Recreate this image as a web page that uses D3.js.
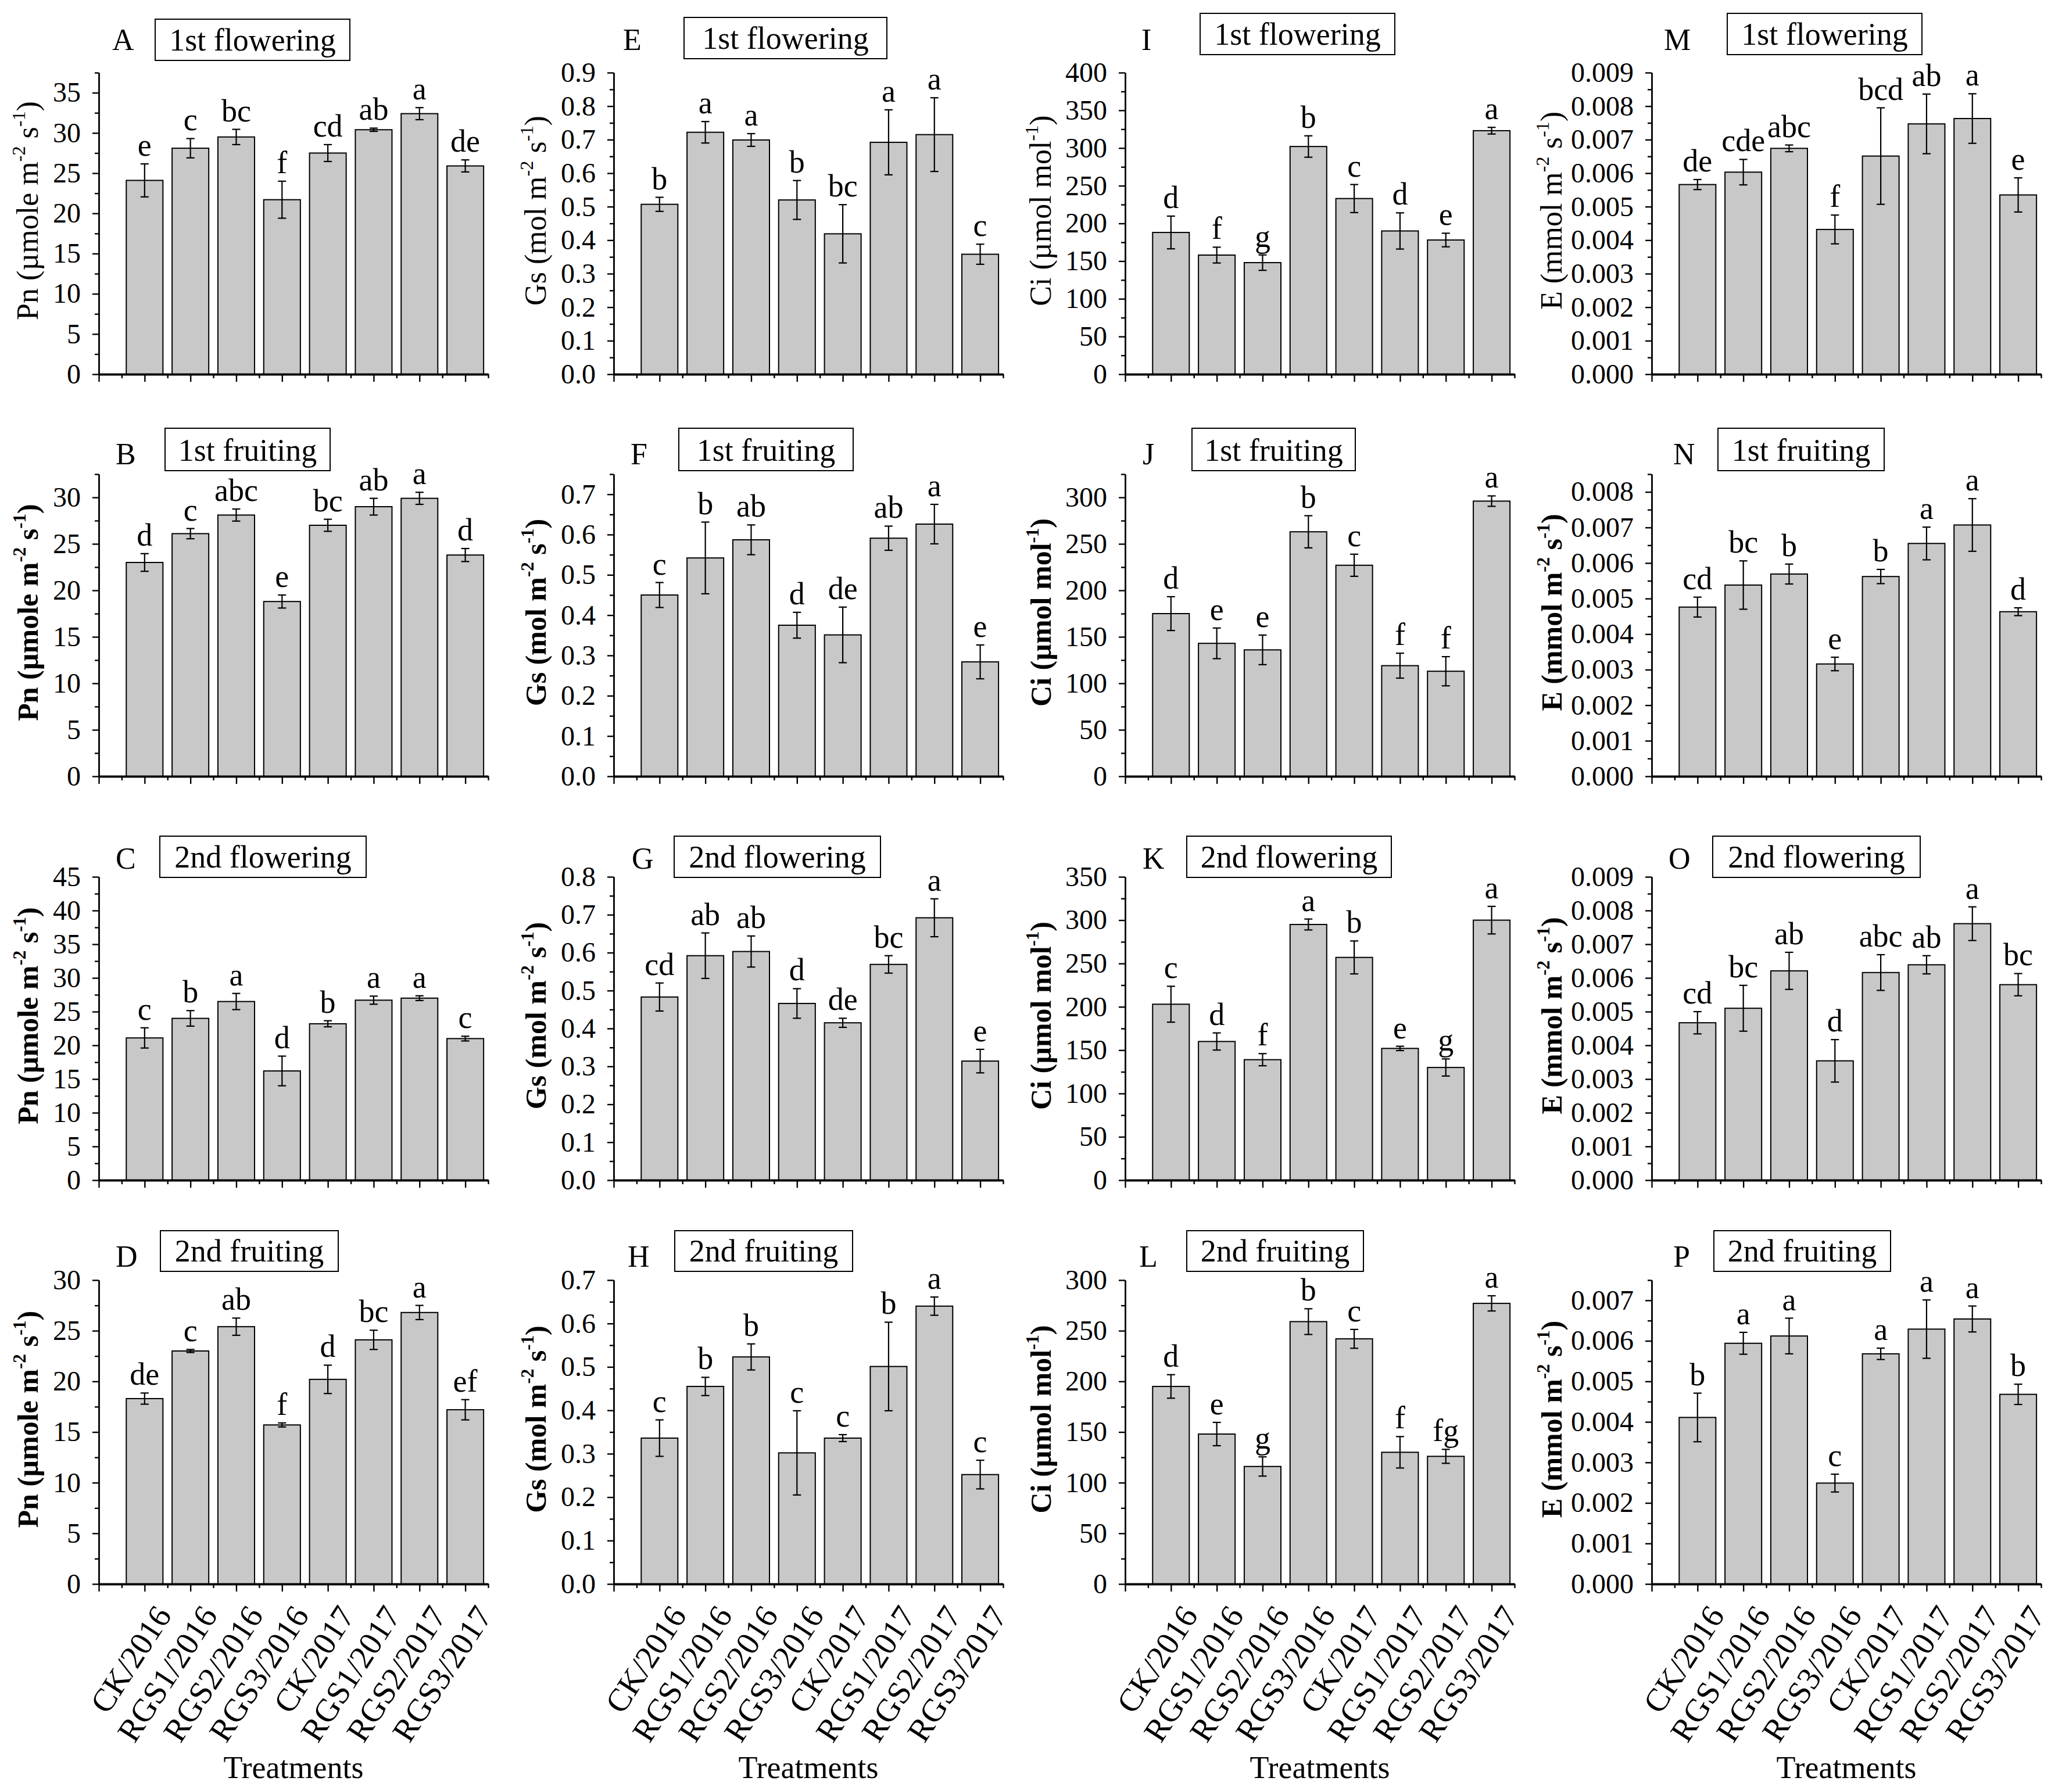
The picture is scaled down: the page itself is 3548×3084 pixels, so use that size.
<!DOCTYPE html>
<html><head><meta charset="utf-8">
<script src="https://cdn.jsdelivr.net/npm/d3@7"></script>
<style>
body{margin:0;background:#fff}
svg{display:block;background:#fff}
text{font-family:"Liberation Serif","Times New Roman",serif;fill:#000}
</style>
</head><body>
<svg id="chart" width="3548" height="3084"></svg>
<script>
// ---------------- DATA ----------------
const treatments = ["CK/2016","RGS1/2016","RGS2/2016","RGS3/2016","CK/2017","RGS1/2017","RGS2/2017","RGS3/2017"];
const stages = ["1st flowering","1st fruiting","2nd flowering","2nd fruiting"];
const panelLetters = [["A","B","C","D"],["E","F","G","H"],["I","J","K","L"],["M","N","O","P"]];

// Pn (µmole m-2 s-1)
const pnMean = [
  [24.1, 28.1, 29.5, 21.7, 27.5, 30.4, 32.4, 25.9],
  [23.0, 26.1, 28.1, 18.8, 27.0, 29.0, 29.9, 23.8],
  [21.1, 24.0, 26.5, 16.2, 23.2, 26.7, 27.0, 21.0],
  [18.3, 23.0, 25.4, 15.7, 20.2, 24.1, 26.8, 17.2]];
const pnErr = [
  [2.05, 1.2, 0.95, 2.3, 1.05, 0.2, 0.75, 0.75],
  [0.95, 0.55, 0.65, 0.7, 0.65, 0.9, 0.65, 0.7],
  [1.5, 1.15, 1.2, 2.2, 0.45, 0.6, 0.35, 0.35],
  [0.55, 0.15, 0.85, 0.2, 1.4, 0.95, 0.7, 1.0]];
const pnSig = [
  ["e","c","bc","f","cd","ab","a","de"],
  ["d","c","abc","e","bc","ab","a","d"],
  ["c","b","a","d","b","a","a","c"],
  ["de","c","ab","f","d","bc","a","ef"]];

// Gs (mol m-2 s-1)
const gsMean = [
  [0.507, 0.722, 0.699, 0.520, 0.419, 0.692, 0.715, 0.358],
  [0.450, 0.542, 0.587, 0.375, 0.351, 0.591, 0.626, 0.284],
  [0.483, 0.592, 0.603, 0.466, 0.415, 0.569, 0.692, 0.314],
  [0.336, 0.455, 0.523, 0.302, 0.336, 0.501, 0.640, 0.252]];
const gsErr = [
  [0.021, 0.032, 0.019, 0.058, 0.087, 0.097, 0.110, 0.030],
  [0.031, 0.089, 0.037, 0.032, 0.069, 0.030, 0.049, 0.042],
  [0.037, 0.060, 0.041, 0.039, 0.012, 0.023, 0.050, 0.031],
  [0.042, 0.021, 0.030, 0.097, 0.008, 0.102, 0.021, 0.033]];
const gsSig = [
  ["b","a","a","b","bc","a","a","c"],
  ["c","b","ab","d","de","ab","a","e"],
  ["cd","ab","ab","d","de","bc","a","e"],
  ["c","b","b","c","c","b","a","c"]];

// Ci (µmol mol-1)
const ciMean = [
  [188, 158, 148, 302, 233, 190, 178, 323],
  [175, 143, 136, 263, 227, 119, 113, 296],
  [203, 160, 139, 295, 257, 152, 130, 300],
  [195, 148, 116, 259, 242, 130, 126, 277]];
const ciErr = [
  [21.7, 10.5, 10.2, 14.2, 18.6, 24, 9, 4.4],
  [18.2, 16.5, 15.9, 17.3, 11.9, 13.4, 15.7, 5.6],
  [20.7, 9.9, 7, 6.3, 19, 2.5, 9.9, 15.9],
  [11.6, 11.5, 9.5, 12.7, 9.3, 15.5, 6.9, 7.5]];
const ciSig = [
  ["d","f","g","b","c","d","e","a"],
  ["d","e","e","b","c","f","f","a"],
  ["c","d","f","a","b","e","g","a"],
  ["d","e","g","b","c","f","fg","a"]];

// E (mmol m-2 s-1)
const eMean = [
  [0.00566, 0.00603, 0.00674, 0.00432, 0.00651, 0.00747, 0.00763, 0.00535],
  [0.00476, 0.00538, 0.00569, 0.00316, 0.00562, 0.00655, 0.00707, 0.00463],
  [0.00467, 0.00510, 0.00621, 0.00354, 0.00616, 0.00639, 0.00761, 0.00580],
  [0.00411, 0.00594, 0.00612, 0.00249, 0.00568, 0.00629, 0.00654, 0.00468]];
const eErr = [
  [0.00015, 0.00038, 0.0001, 0.00043, 0.00144, 0.00089, 0.00074, 0.00051],
  [0.00028, 0.00068, 0.00028, 0.00019, 0.0002, 0.00046, 0.00074, 0.00011],
  [0.00033, 0.00068, 0.00055, 0.00063, 0.00053, 0.00027, 0.0005, 0.00033],
  [0.0006, 0.00027, 0.00044, 0.00022, 0.00014, 0.00072, 0.00032, 0.00025]];
const eSig = [
  ["de","cde","abc","f","bcd","ab","a","e"],
  ["cd","bc","b","e","b","a","a","d"],
  ["cd","bc","ab","d","abc","ab","a","bc"],
  ["b","a","a","c","a","a","a","b"]];

// axis ranges / tick steps
const pnAxisMax = [37.5, 32.5, 45, 30];
const gsAxisMax = [0.9, 0.75, 0.8, 0.7];
const ciAxisMax = [400, 325, 350, 300];
const eAxisMax = [0.009, 0.0085, 0.009, 0.0075];
const axisSteps = [5, 0.1, 50, 0.001];
const xLabel = "Treatments";

// ---------------- LAYOUT ----------------
const colAxisX = [170, 1056, 1936, 2842];
const plotW = 670;
const rowTop = [125, 816, 1509, 2203];
const rowBottom = [644, 1336, 2031, 2726];
const titleOffset = [105, 117, 128, 155];
const letterDx = [[23,29,29,29],[16,29,31,24],[28,30,30,24],[21,37,29,37]];
const boxDx = [[97,114,105,106],[121,112,104,105],[129,115,106,106],[130,114,105,107]];
const boxW = [[335,284,355,306],[349,300,355,306],[335,281,352,304],[335,286,357,304]];
const boxTopRow1 = [33,30,23,23];
const boxTopRows = [null,737,1439,2118];
const boxH = [71,73,71,70];
const letterBase = [86, 799, 1495, 2180];

const vars = [
  {mean: pnMean, err: pnErr, sig: pnSig, max: pnAxisMax, step: axisSteps[0], fmt: d3.format("d"),
   title: [["Pn (µmole m",0],["-2",1],[" s",0],["-1",1],[")",0]]},
  {mean: gsMean, err: gsErr, sig: gsSig, max: gsAxisMax, step: axisSteps[1], fmt: d3.format(".1f"),
   title: [["Gs (mol m",0],["-2",1],[" s",0],["-1",1],[")",0]]},
  {mean: ciMean, err: ciErr, sig: ciSig, max: ciAxisMax, step: axisSteps[2], fmt: d3.format("d"),
   title: [["Ci (µmol mol",0],["-1",1],[")",0]]},
  {mean: eMean, err: eErr, sig: eSig, max: eAxisMax, step: axisSteps[3], fmt: d3.format(".3f"),
   title: [["E (mmol m",0],["-2",1],[" s",0],["-1",1],[")",0]]}
];

const svg = d3.select("#chart");
svg.append("rect").attr("width",3548).attr("height",3084).attr("fill","#fff");

vars.forEach((v, c) => {
  for (let r = 0; r < 4; r++) {
    const x0 = colAxisX[c], yT = rowTop[r], yB = rowBottom[r];
    const x = d3.scaleLinear().domain([0, 8.5]).range([x0, x0 + plotW]);
    const y = d3.scaleLinear().domain([0, v.max[r]]).range([yB, yT]);
    const g = svg.append("g");
    const means = v.mean[r], errs = v.err[r], sigs = v.sig[r];

    // bars
    g.append("g").selectAll("rect").data(means).join("rect")
      .attr("x", (d, i) => x(i + 1 - 0.4))
      .attr("width", x(0.8) - x(0))
      .attr("y", d => y(d))
      .attr("height", d => yB - y(d))
      .attr("fill", "#c8c8c8").attr("stroke", "#000").attr("stroke-width", 2);

    // error bars
    const eg = g.append("g").attr("stroke", "#000").attr("stroke-width", 2.2);
    means.forEach((m, i) => {
      const cx = x(i + 1), top = y(m + errs[i]), bot = y(m - errs[i]);
      eg.append("line").attr("x1", cx).attr("x2", cx).attr("y1", top).attr("y2", bot);
      eg.append("line").attr("x1", cx - 7).attr("x2", cx + 7).attr("y1", top).attr("y2", top);
      eg.append("line").attr("x1", cx - 7).attr("x2", cx + 7).attr("y1", bot).attr("y2", bot);
    });

    // significance letters
    g.append("g").selectAll("text").data(sigs).join("text")
      .attr("x", (d, i) => x(i + 1))
      .attr("y", (d, i) => y(means[i] + errs[i]) - 14)
      .attr("text-anchor", "middle").attr("font-size", 54)
      .text(d => d);

    // y axis
    const n = Math.floor(v.max[r] / v.step + 1e-6);
    const major = d3.range(n + 1).map(k => +(k * v.step).toFixed(6));
    const minor = d3.range(n + 1).map(k => +((k + 0.5) * v.step).toFixed(6)).filter(t => t <= v.max[r] + 1e-9);
    const yMinor = g.append("g").attr("transform", `translate(${x0},0)`)
      .call(d3.axisLeft(y).tickValues(minor).tickSize(7).tickSizeOuter(0).tickFormat(""));
    const yAx = g.append("g").attr("transform", `translate(${x0},0)`)
      .call(d3.axisLeft(y).tickValues(major).tickSize(11).tickSizeOuter(0).tickPadding(20).tickFormat(v.fmt));
    [yMinor, yAx].forEach(a => {
      a.selectAll("path,line").attr("stroke", "#000").attr("stroke-width", 2.4);
    });
    yAx.selectAll("text").attr("font-size", 48).attr("font-family", '"Liberation Serif", serif');

    // x axis
    const xMaj = d3.range(0, 9);
    const xMin = d3.range(0, 9).map(k => k + 0.5);
    const xMinorAx = g.append("g").attr("transform", `translate(0,${yB})`)
      .call(d3.axisBottom(x).tickValues(xMin).tickSize(7).tickSizeOuter(0).tickFormat(""));
    const xAx = g.append("g").attr("transform", `translate(0,${yB})`)
      .call(d3.axisBottom(x).tickValues(xMaj).tickSize(13).tickSizeOuter(0).tickFormat(""));
    [xMinorAx, xAx].forEach(a => {
      a.selectAll("line").attr("stroke", "#000").attr("stroke-width", 2.4);
      a.select("path").attr("stroke", "#000").attr("stroke-width", 3.5);
    });

    // y title
    const fs = r === 0 ? 52 : 50;
    const tt = g.append("text")
      .attr("transform", `translate(${x0 - titleOffset[c]},${(yT + yB) / 2 - 22}) rotate(-90)`)
      .attr("text-anchor", "middle").attr("font-size", fs)
      .attr("font-weight", r === 0 ? "normal" : "bold");
    let shifted = false;
    v.title.forEach(([s, sup]) => {
      const ts = tt.append("tspan").text(s);
      if (sup && !shifted) { ts.attr("dy", -0.42 * fs).attr("font-size", 0.62 * fs); shifted = true; }
      else if (!sup && shifted) { ts.attr("dy", 0.42 * fs); shifted = false; }
    });

    // panel letter
    g.append("text").attr("x", x0 + letterDx[c][r]).attr("y", letterBase[r])
      .attr("font-size", 52).text(panelLetters[c][r]);

    // stage box
    const bx = x0 + boxDx[c][r];
    const by = r === 0 ? boxTopRow1[c] : boxTopRows[r];
    g.append("rect").attr("x", bx).attr("y", by).attr("width", boxW[c][r]).attr("height", boxH[r])
      .attr("fill", "#fff").attr("stroke", "#000").attr("stroke-width", 2);
    g.append("text").attr("x", bx + boxW[c][r] / 2).attr("y", by + boxH[r] - 17)
      .attr("text-anchor", "middle").attr("font-size", 54).text(stages[r]);

    // bottom row: treatment labels
    if (r === 3) {
      g.append("g").selectAll("text").data(treatments).join("text")
        .attr("text-anchor", "end").attr("font-size", 56)
        .attr("transform", (d, i) => `translate(${x(i + 1) + 48},${yB + 54}) rotate(-57)`)
        .text(d => d);
      g.append("text").attr("x", x0 + plotW / 2).attr("y", 3060)
        .attr("text-anchor", "middle").attr("font-size", 54).text(xLabel);
    }
  }
});
</script>
</body></html>
